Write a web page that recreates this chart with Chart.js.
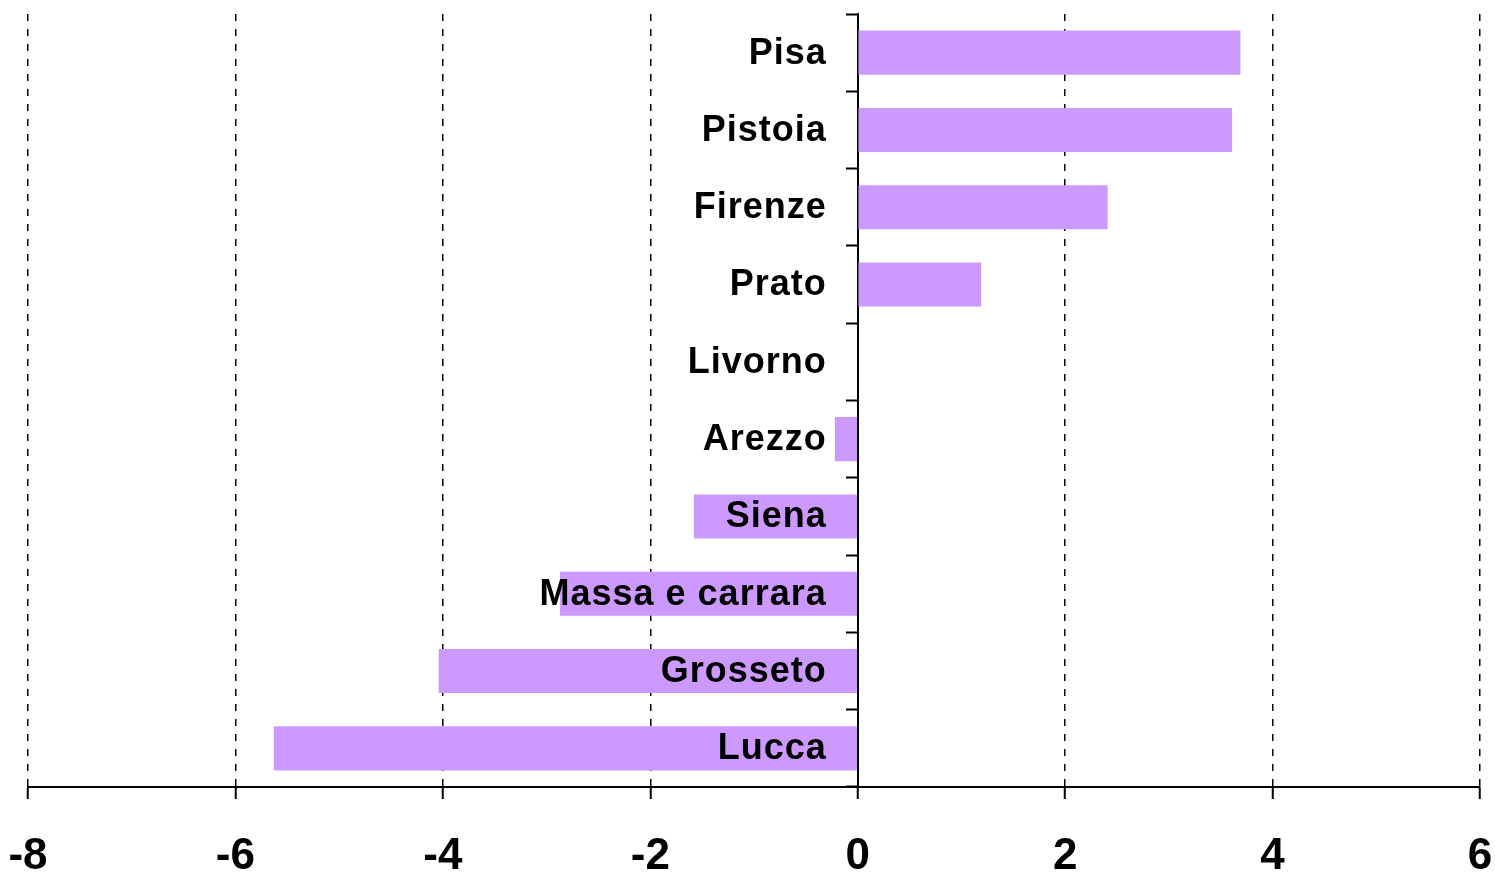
<!DOCTYPE html>
<html>
<head>
<meta charset="utf-8">
<script src="https://cdn.jsdelivr.net/npm/chart.js@4/dist/chart.umd.min.js"></script>
<style>
  html,body{margin:0;padding:0;background:#fff;}
  #wrap{width:1495px;height:873px;position:relative;}
</style>
</head>
<body>
<div id="wrap"><canvas id="chart"></canvas></div>
<script>
// province names, top to bottom
const provinces = ['Pisa','Pistoia','Firenze','Prato','Livorno','Arezzo','Siena','Massa e carrara','Grosseto','Lucca'];
// values
const values = [3.69, 3.61, 2.41, 1.19, 0, -0.22, -1.58, -2.87, -4.04, -5.63];
const xMin = -8, xMax = 6, xStep = 2;

const FONT = 'Liberation Sans, Arial, sans-serif';

// category names sit next to the zero axis, on top of the bars
const labelsOnTop = {
  id: 'labelsOnTop',
  afterDatasetsDraw(chart){
    const {ctx, scales:{x, y}} = chart;
    const x0 = x.getPixelForValue(0);
    ctx.save();
    ctx.font = 'bold 36px ' + FONT;
    ctx.letterSpacing = '1px';
    ctx.fillStyle = '#000';
    ctx.textAlign = 'right';
    ctx.textBaseline = 'middle';
    provinces.forEach((p, i) => {
      ctx.fillText(p, x0 - 31, y.getPixelForValue(i) + 1);
    });
    ctx.restore();
  }
};

function noPad(s){ s.paddingLeft = 0; s.paddingRight = 0; s.paddingTop = 0; s.paddingBottom = 0; }

(function(){
  const ctx = document.getElementById('chart').getContext('2d');
  new Chart(ctx, {
    type: 'bar',
    data: {
      labels: provinces,
      datasets: [{
        data: values,
        backgroundColor: '#CC99FF',
        borderWidth: 0,
        barPercentage: 0.57,
        categoryPercentage: 1
      }]
    },
    options: {
      indexAxis: 'y',
      responsive: true,
      maintainAspectRatio: false,
      animation: false,
      layout: {padding: {left: 28, right: 15, top: 14, bottom: 0}},
      plugins: {legend: {display: false}, tooltip: {enabled: false}},
      scales: {
        x: {
          min: xMin, max: xMax,
          afterFit: s => { noPad(s); s.height = 86; },
          ticks: {
            stepSize: xStep,
            color: '#000',
            font: {family: FONT, size: 44, weight: 'bold', lineHeight: 1},
            padding: 36
          },
          grid: {
            color: '#000',
            lineWidth: 1.5,
            tickLength: 12,
            tickColor: '#000',
            tickWidth: 2,
            tickBorderDash: []
          },
          border: {display: true, color: '#000', width: 2, dash: [7, 8]}
        },
        y: {
          position: {x: 0},
          afterFit: noPad,
          ticks: {display: false},
          grid: {
            offset: true,
            drawOnChartArea: false,
            tickLength: 11,
            tickColor: '#000',
            tickWidth: 2
          },
          border: {display: true, color: '#000', width: 2}
        }
      }
    },
    plugins: [labelsOnTop]
  });
})();
</script>
</body>
</html>
